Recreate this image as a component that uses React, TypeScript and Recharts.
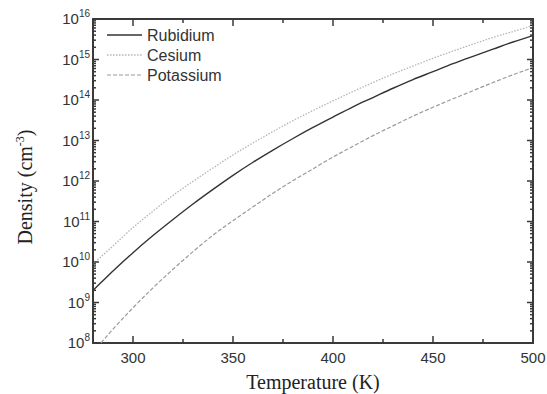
import { Line, LineChart, ReferenceArea, XAxis, YAxis } from "recharts";

// temperatures (K) and vapour densities (cm^-3)
const temps = [280, 284, 290, 300, 310, 320, 330, 340, 350, 360, 370, 380, 390, 400, 410, 420, 430, 440, 450, 460, 470, 480, 490, 500];
const rubidium = [2.0e9, 3.1e9, 6.0e9, 1.7e10, 4.5e10, 1.12e11, 2.7e11, 6.2e11, 1.38e12, 2.9e12, 5.8e12, 1.12e13, 2.1e13, 3.8e13, 6.8e13, 1.15e14, 1.95e14, 3.2e14, 5.0e14, 7.9e14, 1.2e15, 1.8e15, 2.7e15, 3.9e15];
const cesium = [8.9e9, 1.35e10, 2.5e10, 7.1e10, 1.8e11, 4.4e11, 9.8e11, 2.1e12, 4.4e12, 8.7e12, 1.66e13, 3.1e13, 5.5e13, 9.5e13, 1.62e14, 2.7e14, 4.4e14, 6.9e14, 1.07e15, 1.62e15, 2.4e15, 3.5e15, 4.9e15, 6.9e15];
const potassium = [null, 1.0e8, 2.2e8, 7.4e8, 2.3e9, 6.6e9, 1.8e10, 4.6e10, 1.05e11, 2.3e11, 5.0e11, 1.02e12, 2.0e12, 3.9e12, 7.2e12, 1.32e13, 2.3e13, 4.0e13, 6.6e13, 1.07e14, 1.7e14, 2.7e14, 4.2e14, 6.3e14];

const xTicks = [300, 325, 350, 375, 400, 425, 450, 475, 500];
const xLabels = [300, 350, 400, 450, 500];
const decades = [8, 9, 10, 11, 12, 13, 14, 15, 16];

const series = [
  { key: "rb", name: "Rubidium", color: "#333", dash: undefined, width: 1.4 },
  { key: "cs", name: "Cesium", color: "#b5b5b5", dash: "1.5 1.5", width: 1.3 },
  { key: "k", name: "Potassium", color: "#9a9a9a", dash: "4 2", width: 1.2 },
];

const data = temps.map((t, i) => ({
  t,
  rb: rubidium[i],
  cs: cesium[i],
  k: potassium[i],
}));

const yTicks: number[] = [];
decades.forEach((d) => {
  yTicks.push(Math.pow(10, d));
  if (d < 16) for (let m = 2; m <= 9; m++) yTicks.push(m * Math.pow(10, d));
});

const W = 547;
const H = 394;
const MARGIN = { top: 19, right: 14, left: 33, bottom: 21 };
const PLOT_RIGHT = W - MARGIN.right;
const PLOT_TOP = MARGIN.top;

const SANS = "Arial, 'Liberation Sans', sans-serif";
const SERIF = "'Times New Roman', 'Liberation Serif', serif";
const AXIS = "#3a3a3a";

function isMajor(v: number) {
  const e = Math.log10(v);
  return Math.abs(e - Math.round(e)) < 1e-6;
}

// left tick + its mirror on the right frame edge
function LeftTick(props: any) {
  const x = Number(props.x);
  const y = Number(props.y);
  const v = props.payload.value;
  const major = isMajor(v);
  const len = major ? 6 : 3;
  return (
    <g>
      <rect x={x} y={y - 0.75} width={len} height={1.5} fill={AXIS} />
      <rect x={PLOT_RIGHT - len} y={y - 0.75} width={len} height={1.5} fill={AXIS} />
      {major && (
        <text x={x - 3} y={y + 5} textAnchor="end" fontFamily={SANS} fontSize={15} fill="#333">
          <tspan>10</tspan>
          <tspan dy={-7} fontSize={10}>{Math.round(Math.log10(v))}</tspan>
        </text>
      )}
    </g>
  );
}

// bottom tick + its mirror on the top frame edge
function BottomTick(props: any) {
  const x = Number(props.x);
  const y = Number(props.y);
  const v = props.payload.value;
  const major = xLabels.includes(v);
  const len = major ? 7 : 4;
  return (
    <g>
      <rect x={x - 0.75} y={y - len} width={1.5} height={len} fill={AXIS} />
      <rect x={x - 0.75} y={PLOT_TOP} width={1.5} height={len} fill={AXIS} />
      {major && (
        <text x={x} y={y + 20} textAnchor="middle" fontFamily={SANS} fontSize={15} fill="#333">
          {v}
        </text>
      )}
    </g>
  );
}

function LegendBox() {
  return (
    <svg width={150} height={62} style={{ position: "absolute", left: 100, top: 25 }}>
      {series.map((s, i) => (
        <g key={s.key}>
          <line
            x1={7}
            x2={42}
            y1={10 + i * 20}
            y2={10 + i * 20}
            stroke={s.color}
            strokeWidth={s.width}
            strokeDasharray={s.dash}
          />
          <text x={47} y={10 + i * 20} dominantBaseline="central" fontFamily={SANS} fontSize={16} fill="#333">
            {s.name}
          </text>
        </g>
      ))}
    </svg>
  );
}

export default function App() {
  return (
    <div style={{ position: "absolute", left: 0, top: 0, width: W, height: H, background: "#fff" }}>
      <LineChart width={W} height={H} data={data} margin={MARGIN}>
        <XAxis
          dataKey="t"
          type="number"
          domain={[280, 500]}
          ticks={xTicks}
          interval={0}
          height={30}
          tickSize={0}
          tickMargin={0}
          tickLine={false}
          axisLine={false}
          tick={<BottomTick />}
          allowDataOverflow
          label={(p: any) => (
            <text
              x={p.viewBox.x + p.viewBox.width / 2}
              y={p.viewBox.y + 46}
              textAnchor="middle"
              fontFamily={SERIF}
              fontSize={20}
              fill="#222"
            >
              Temperature (K)
            </text>
          )}
        />
        <YAxis
          type="number"
          scale="log"
          domain={[1e8, 1e16]}
          ticks={yTicks}
          interval={0}
          width={60}
          tickSize={0}
          tickMargin={0}
          tickLine={false}
          axisLine={false}
          tick={<LeftTick />}
          allowDataOverflow
          label={(p: any) => {
            const cx = 32;
            const cy = p.viewBox.y + p.viewBox.height / 2 + 6;
            return (
              <text
                x={cx}
                y={cy}
                transform={`rotate(-90 ${cx} ${cy})`}
                textAnchor="middle"
                fontFamily={SERIF}
                fontSize={20}
                fill="#222"
              >
                <tspan>Density (cm</tspan>
                <tspan dy={-8} fontSize={12}>-3</tspan>
                <tspan dy={8}>)</tspan>
              </text>
            );
          }}
        />
        <ReferenceArea
          x1={280}
          x2={500}
          y1={1e8}
          y2={1e16}
          fill="none"
          stroke={AXIS}
          strokeWidth={2}
          ifOverflow="visible"
        />
        {series.map((s) => (
          <Line
            key={s.key}
            dataKey={s.key}
            name={s.name}
            type="monotone"
            stroke={s.color}
            strokeWidth={s.width}
            strokeDasharray={s.dash}
            dot={false}
            activeDot={false}
            isAnimationActive={false}
          />
        ))}
      </LineChart>
      <LegendBox />
    </div>
  );
}
